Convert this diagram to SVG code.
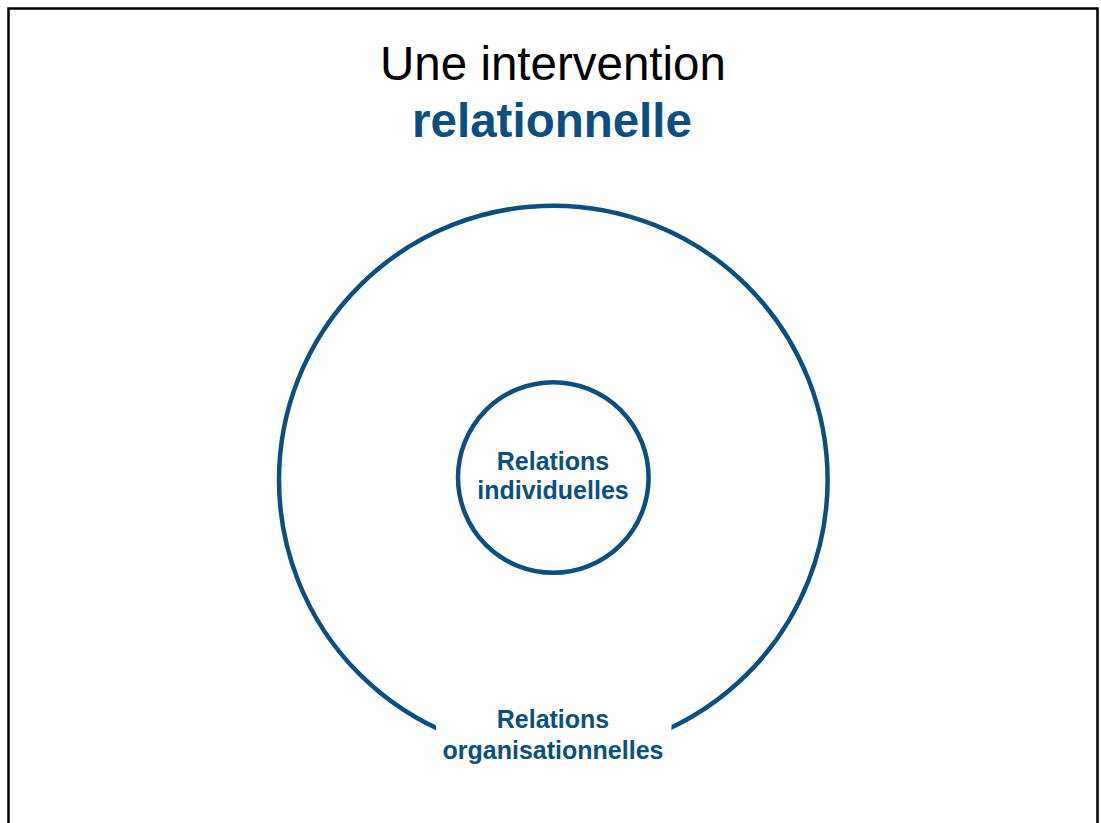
<svg xmlns="http://www.w3.org/2000/svg" width="1101" height="823" viewBox="0 0 1101 823">
<style>
.ring{fill:none;stroke:#0b4f80;stroke-width:4.5}
.lbl{font-family:"Liberation Sans",Arial,sans-serif;font-weight:bold;font-size:25px;fill:#0b4f80;text-anchor:middle}
.title{font-family:"Liberation Sans",Arial,sans-serif;font-size:47.5px;text-anchor:middle}
</style>
<rect x="0" y="0" width="1101" height="823" fill="#ffffff"/>
<rect x="8.5" y="8.5" width="1089" height="840" fill="none" stroke="#000000" stroke-width="2.5"/>
<g id="title">
<text class="title" x="553" y="80" fill="#000000">Une intervention</text>
<text class="title" x="552" y="137" fill="#0b4f80" font-weight="bold" font-size="48px">relationnelle</text>
</g>
<g id="outer">
<circle class="ring" cx="553.3" cy="480" r="274.3"/>
<rect x="436" y="700" width="235.5" height="80" fill="#ffffff"/>
<text class="lbl" x="553" y="728">Relations</text>
<text class="lbl" x="553" y="759">organisationnelles</text>
</g>
<g id="inner">
<circle class="ring" cx="553.3" cy="477.5" r="95.3"/>
<text class="lbl" x="553" y="469.5">Relations</text>
<text class="lbl" x="553" y="499">individuelles</text>
</g>
<g id="connectors"></g>
</svg>
